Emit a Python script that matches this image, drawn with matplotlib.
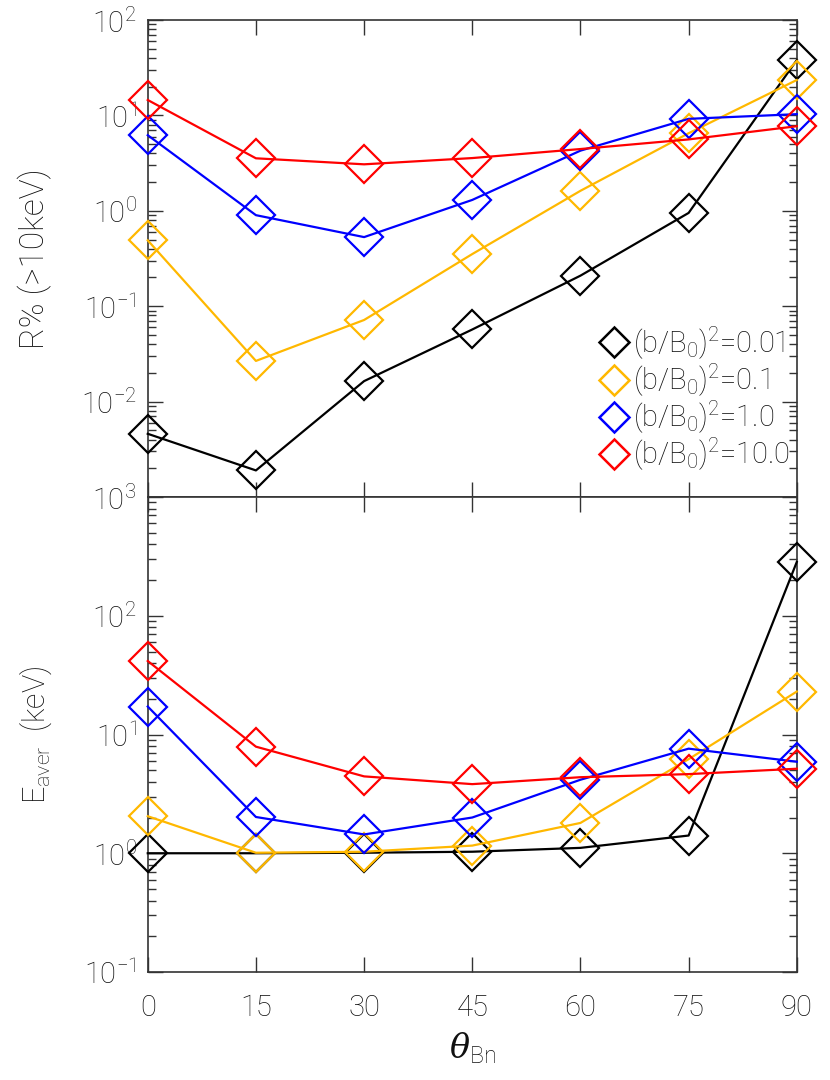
import math
import matplotlib
matplotlib.use('Agg')
import matplotlib.pyplot as plt
from matplotlib.lines import Line2D
from matplotlib.ticker import LogLocator, FixedLocator, FuncFormatter, NullFormatter

plt.rcParams['font.family'] = ['Roboto', 'DejaVu Sans']
plt.rcParams['font.weight'] = 'light'
plt.rcParams['axes.labelweight'] = 'light'
plt.rcParams['mathtext.fontset'] = 'custom'
plt.rcParams['mathtext.rm'] = 'Roboto:light'
plt.rcParams['mathtext.it'] = 'DejaVu Serif:italic'
plt.rcParams['mathtext.default'] = 'regular'

# углы и значения
theta = [0, 15, 30, 45, 60, 75, 90]
labels = ['(b/B$_0$)$^2$=0.01', '(b/B$_0$)$^2$=0.1', '(b/B$_0$)$^2$=1.0', '(b/B$_0$)$^2$=10.0']
colors = ['black', '#FFB800', '#0000FF', '#FF0000']

# R% (>10keV)
r_001 = [0.0046, 0.0019, 0.0164, 0.057, 0.209, 0.95, 38]
r_01 = [0.49, 0.0267, 0.0717, 0.352, 1.62, 6.5, 23.5]
r_1 = [6.2, 0.90, 0.53, 1.30, 4.27, 9.2, 10.3]
r_10 = [14.5, 3.55, 3.07, 3.57, 4.44, 5.6, 7.7]

# E_aver (keV)
e_001 = [1.0, 1.0, 1.01, 1.03, 1.11, 1.41, 284]
e_01 = [2.05, 1.01, 1.03, 1.16, 1.80, 6.2, 23]
e_1 = [17.2, 2.02, 1.44, 2.0, 4.16, 7.6, 5.9]
e_10 = [41.6, 7.9, 4.44, 3.82, 4.37, 4.64, 5.15]

r_series = [r_001, r_01, r_1, r_10]
e_series = [e_001, e_01, e_1, e_10]

fig = plt.figure(figsize=(8.3, 10.8), dpi=100)
ax1 = fig.add_axes([0.178, 0.5398, 0.782, 0.4417])
ax2 = fig.add_axes([0.178, 0.1, 0.782, 0.4398])

txtcol = '#111111'


def pow_fmt(v, pos):
    e = int(round(math.log10(v)))
    return '10$^{%d}$' % e


for ax, series in ((ax1, r_series), (ax2, e_series)):
    for y, c in zip(series, colors):
        ax.plot(theta, y, color=c, lw=1.6, marker='D', ms=19, mfc='none',
                mec=c, mew=1.6, clip_on=False, zorder=3)
    ax.set_yscale('log')
    ax.set_xlim(0, 90)
    ax.xaxis.set_major_locator(FixedLocator(theta))
    ax.yaxis.set_major_locator(LogLocator(base=10, numticks=10))
    ax.yaxis.set_minor_locator(LogLocator(base=10, subs=range(2, 10), numticks=20))
    ax.yaxis.set_minor_formatter(NullFormatter())
    ax.yaxis.set_major_formatter(FuncFormatter(pow_fmt))
    ax.tick_params(which='both', direction='in', top=True, right=True,
                   colors='#333333', labelcolor=txtcol, labelsize=21, width=1.0)
    ax.tick_params(which='major', length=11, pad=8)
    ax.tick_params(which='minor', length=6)
    ax.tick_params(axis='x', which='major', pad=16)
    for s in ax.spines.values():
        s.set_color('#333333')
        s.set_linewidth(1.2)

ax1.set_ylim(1e-3, 1e2)
ax2.set_ylim(1e-1, 1e3)
ax1.set_xticklabels([])
ax1.set_yticks([1e-2, 1e-1, 1e0, 1e1, 1e2])

ax1.set_ylabel('R% (>10keV)', fontsize=24, color=txtcol)
ax2.set_ylabel('E$_{aver}$  (keV)', fontsize=22, color=txtcol)
ax2.set_xlabel(r'$\mathit{\theta}_{\rm Bn}$', fontsize=24, color=txtcol, labelpad=6)
ax1.yaxis.set_label_coords(-0.148, 0.5)
ax2.yaxis.set_label_coords(-0.145, 0.5)

handles = [Line2D([], [], ls='none', marker='D', ms=15, mfc='none', mec=c, mew=1.8)
           for c in colors]
ax1.legend(handles, labels, loc='lower right', bbox_to_anchor=(0.99, 0.05),
           frameon=False, fontsize=21, handletextpad=0.15, labelspacing=0.0,
           handlelength=1.0, borderaxespad=0.0, borderpad=0.0, labelcolor=txtcol)

fig.savefig('out.png', dpi=100)
